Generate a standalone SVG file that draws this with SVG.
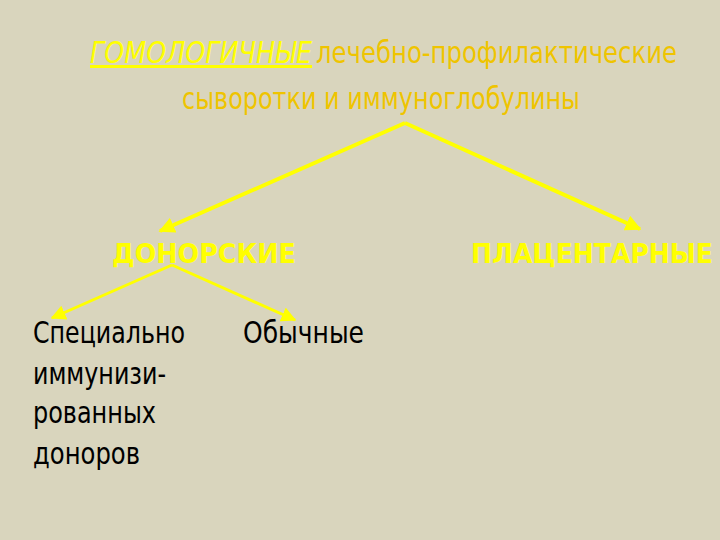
<svg xmlns="http://www.w3.org/2000/svg" width="720" height="540" viewBox="0 0 720 540">
<defs>
<style>
.t{font-family:"DejaVu Sans Condensed","Liberation Sans",sans-serif;}
.title{font-size:30px;fill:#EFC400;}
.hl{font-size:30px;fill:#FFFF00;font-style:italic;text-decoration:underline;}
.cat{font-size:26px;font-weight:bold;fill:#FFFF00;}
.leaf{font-size:30px;fill:#000;}
.c1{stroke:#FFFF00;stroke-width:4;fill:none;}
.c2{stroke:#FFFF00;stroke-width:3;fill:none;}
</style>
<marker id="ah" viewBox="0 0 10 10" refX="9" refY="5" markerWidth="4" markerHeight="4" orient="auto" markerUnits="strokeWidth">
<path d="M0,0 L10,5 L0,10 z" fill="#FFFF00"/>
</marker>
<marker id="ah2" viewBox="0 0 10 10" refX="9" refY="5" markerWidth="5" markerHeight="5" orient="auto" markerUnits="strokeWidth">
<path d="M0,0 L10,5 L0,10 z" fill="#FFFF00"/>
</marker>
</defs>
<rect width="720" height="540" fill="#D9D5BD"/>
<g id="title">
<text class="t hl" x="90" y="63" textLength="222" lengthAdjust="spacingAndGlyphs">ГОМОЛОГИЧНЫЕ</text>
<text class="t title" x="316" y="63" textLength="361" lengthAdjust="spacingAndGlyphs">лечебно-профилактические</text>
<text class="t title" x="182" y="109" textLength="398" lengthAdjust="spacingAndGlyphs">сыворотки и иммуноглобулины</text>
</g>
<g id="connectors">
<path class="c1" d="M405,123 L160,231" marker-end="url(#ah)"/>
<path class="c1" d="M405,123 L640,229" marker-end="url(#ah)"/>
<path class="c2" d="M172,265 L52,318" marker-end="url(#ah2)"/>
<path class="c2" d="M172,265 L295,320" marker-end="url(#ah2)"/>
</g>
<g id="donor">
<text class="t cat" x="112" y="263" textLength="184" lengthAdjust="spacingAndGlyphs">ДОНОРСКИЕ</text>
</g>
<g id="placental">
<text class="t cat" x="471" y="263" textLength="242" lengthAdjust="spacingAndGlyphs">ПЛАЦЕНТАРНЫЕ</text>
</g>
<g id="special">
<text class="t leaf" x="33" y="343" textLength="152" lengthAdjust="spacingAndGlyphs">Специально</text>
<text class="t leaf" x="33" y="384" textLength="133" lengthAdjust="spacingAndGlyphs">иммунизи-</text>
<text class="t leaf" x="33" y="423" textLength="123" lengthAdjust="spacingAndGlyphs">рованных</text>
<text class="t leaf" x="33" y="464" textLength="107" lengthAdjust="spacingAndGlyphs">доноров</text>
</g>
<g id="ordinary">
<text class="t leaf" x="243" y="343" textLength="121" lengthAdjust="spacingAndGlyphs">Обычные</text>
</g>
</svg>
